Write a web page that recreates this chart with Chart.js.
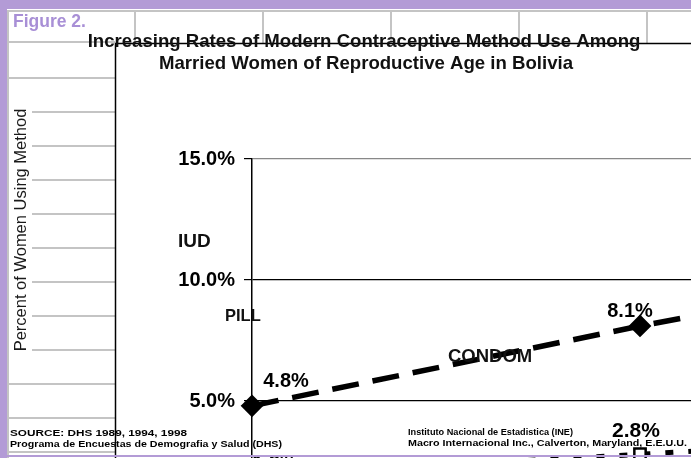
<!DOCTYPE html>
<html><head><meta charset="utf-8">
<script src="https://cdn.jsdelivr.net/npm/chart.js@4.4.1/dist/chart.umd.min.js"></script>
<style>
html,body{margin:0;padding:0;width:691px;height:458px;overflow:hidden;background:#fff}
#wrap{position:relative;width:691px;height:458px;overflow:hidden}
canvas{position:absolute;left:0;top:0}
</style></head><body>
<div id="wrap"><canvas id="c" width="1100" height="600"></canvas></div>
<script>
// ---- data ----
const years = ['1989', '1994', '1998'];
const iudValues = [4.8, 8.1, 11.1];
const pillValues = [1.9, 2.8, 3.7];
const yTickStep = 5;
const yMin = 0, yMax = 15;
const figureLabel = 'Figure 2.';
const titleLines = ['Increasing Rates of Modern Contraceptive Method Use Among',
                    'Married Women of Reproductive Age in Bolivia'];
const yTitle = 'Percent of Women Using Method';
const methodNames = ['IUD', 'PILL', 'CONDOM'];
const sourceLeft = ['SOURCE: DHS 1989, 1994, 1998', 'Programa de Encuestas de Demografia y Salud (DHS)'];
const sourceRight = ['Instituto Nacional de Estadistica (INE)', 'Macro Internacional Inc., Calverton, Maryland, E.E.U.U.'];

// ---- styles ----
const FONT = 'Arial, "Liberation Sans", Helvetica, sans-serif';
const PURPLE = '#b39bd6';
const GRAY = '#c4c4c4';
// label placement relative to each point: [dx, dy(baseline), fontSize]
const valueLabelStyle = [
  [[34, -19, 20], [-10, -9, 20], null],
  [[23, -7, 20], [-4, -17, 21], null]
];
const methodLabelPos = [[178, 247, 19], [225, 321, 16.5], [448, 362, 18.5]];

function txt(ctx, s, x, y, size, o) {
  o = o || {};
  ctx.save();
  ctx.font = (o.weight || 'bold') + ' ' + size + 'px ' + FONT;
  ctx.fillStyle = o.color || '#000';
  ctx.textBaseline = 'alphabetic';
  ctx.textAlign = o.align || 'left';
  if (o.width) {
    const w = ctx.measureText(s).width;
    ctx.translate(x, y); ctx.scale(o.width / w, 1); ctx.fillText(s, 0, 0);
  } else ctx.fillText(s, x, y);
  ctx.restore();
}

const decor = {
  id: 'decor',
  beforeDraw(chart) {
    const ctx = chart.ctx;
    ctx.save();
    ctx.fillStyle = '#fff'; ctx.fillRect(0, 0, chart.width, chart.height);
    ctx.strokeStyle = GRAY; ctx.lineWidth = 2;
    ctx.beginPath();
    ctx.moveTo(7, 11); ctx.lineTo(chart.width, 11);
    for (let y = 42; y < 460; y += (y === 42 ? 36 : 34)) { ctx.moveTo(7, y); ctx.lineTo(115, y); }
    ctx.moveTo(8, 10); ctx.lineTo(8, 460);
    for (let x = 135; x < 700; x += 128) { ctx.moveTo(x, 10); ctx.lineTo(x, 43); }
    ctx.stroke();
    ctx.fillStyle = PURPLE;
    ctx.fillRect(0, 0, chart.width, 9);
    ctx.fillRect(0, 0, 7, 460);
    // white chart frame
    ctx.fillStyle = '#fff';
    ctx.fillRect(115, 43, chart.width, chart.height);
    ctx.fillRect(9, 98, 23, 262);
    ctx.strokeStyle = '#000'; ctx.lineWidth = 1.5;
    ctx.beginPath(); ctx.moveTo(115.5, chart.height); ctx.lineTo(115.5, 43.5); ctx.lineTo(chart.width, 43.5); ctx.stroke();
    ctx.restore();
  },
  afterDatasetsDraw(chart) {
    const ctx = chart.ctx;
    chart.data.datasets.forEach((ds, i) => {
      const meta = chart.getDatasetMeta(i);
      meta.data.forEach((pt, j) => {
        const st = valueLabelStyle[i][j];
        if (!st) return;
        txt(ctx, ds.data[j].toFixed(1) + '%', pt.x + st[0], pt.y + st[1], st[2], {align: 'center'});
      });
    });
  },
  afterDraw(chart) {
    const ctx = chart.ctx;
    txt(ctx, figureLabel, 13, 27, 17.5, {color: '#a88fd6'});
    txt(ctx, titleLines[0], 364, 47, 18.6, {align: 'center', color: '#111'});
    txt(ctx, titleLines[1], 366, 69, 18.6, {align: 'center', color: '#111'});
    ctx.save();
    ctx.translate(26, 230); ctx.rotate(-Math.PI / 2);
    txt(ctx, yTitle, 0, 0, 16.5, {weight: 'normal', align: 'center', color: '#1a1a1a'});
    ctx.restore();
    methodNames.forEach((n, i) => {
      const p = methodLabelPos[i];
      txt(ctx, n, p[0], p[1], p[2], {color: '#111'});
    });
    txt(ctx, sourceLeft[0], 10, 436, 9.5, {width: 177});
    txt(ctx, sourceLeft[1], 10, 447, 9.5, {width: 272});
    txt(ctx, sourceRight[0], 408, 435, 9.5, {width: 165});
    txt(ctx, sourceRight[1], 408, 446, 9.5, {width: 279});
    ctx.save();
    ctx.fillStyle = PURPLE; ctx.fillRect(0, 455, chart.width, 2);
    ctx.restore();
  }
};

new Chart(document.getElementById('c'), {
  type: 'line',
  data: {
    labels: years,
    datasets: [
      {label: methodNames[0], data: iudValues, borderColor: '#000', borderWidth: 5.5,
       borderDash: [27, 14], pointStyle: 'rectRot', pointRadius: 7.5,
       pointBackgroundColor: '#000', pointBorderColor: '#000', fill: false, tension: 0},
      {label: methodNames[1], data: pillValues, borderColor: '#000', borderWidth: 5,
       borderDash: [8, 15], pointStyle: 'rect', pointRadius: 8,
       pointBackgroundColor: '#fff', pointBorderColor: '#000', pointBorderWidth: 2.5, fill: false, tension: 0}
    ]
  },
  options: {
    responsive: false, animation: false, devicePixelRatio: 1,
    layout: {padding: {top: 159, left: 0, right: 72, bottom: 38}},
    plugins: {legend: {display: false}, tooltip: {enabled: false}, title: {display: false}},
    scales: {
      x: {type: 'category', offset: false, grid: {display: false}, border: {display: false},
          ticks: {font: {family: FONT, size: 14, weight: 'bold'}, color: '#000'},
          afterFit: s => { s.height = 40; }},
      y: {min: yMin, max: yMax,
          ticks: {stepSize: yTickStep, padding: 9, color: '#000',
                  font: {family: FONT, size: 20, weight: 'bold'},
                  callback: v => v.toFixed(1) + '%'},
          grid: {color: c => (c.tick && c.tick.value === yMax) ? '#888' : '#000',
                 tickColor: '#000', tickLength: 8, lineWidth: 1.2},
          border: {color: '#000', width: 1.5},
          afterFit: s => { s.width = 252; }}
    }
  },
  plugins: [decor]
});
</script>
</body></html>
